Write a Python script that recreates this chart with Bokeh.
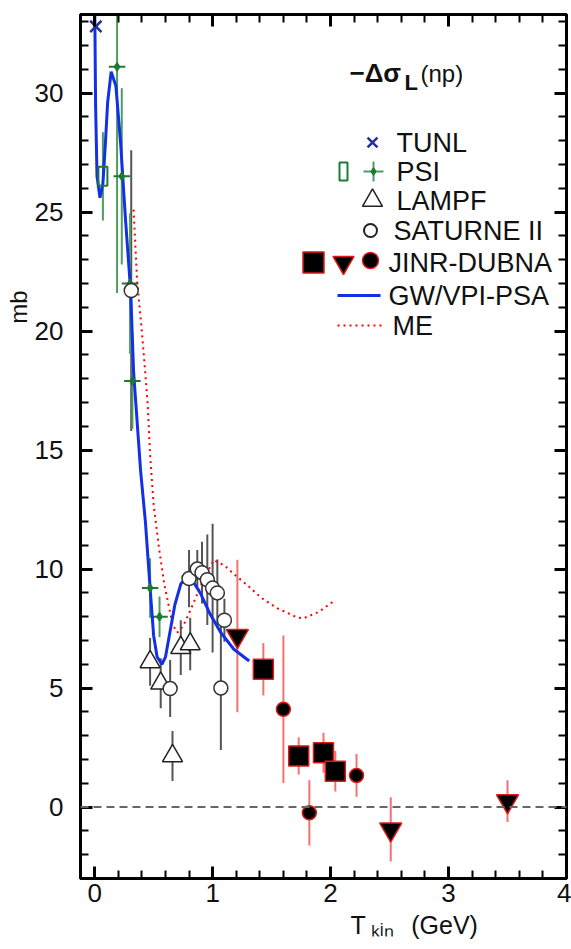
from bokeh.plotting import figure
from bokeh.models import Range1d, LinearAxis, SingleIntervalTicker, Label, Span, Title
from bokeh.embed import file_html
from bokeh.resources import INLINE

# ---------------- data: -Delta sigma_L (np), mb vs T_kin (GeV) ----------------
tunl_t = [0.01]
tunl_s = [32.8]

psi_box_t = [0.07]
psi_box_s = [26.5]
psi_box_err = [1.85]

psi_t = [0.19, 0.23, 0.30, 0.32, 0.47, 0.55]
psi_s = [31.1, 26.5, 22.0, 17.9, 9.2, 8.0]
psi_err = [9.5, 3.7, 2.95, 2.0, 1.25, 0.85]
psi_terr = [0.07, 0.07, 0.07, 0.07, 0.07, 0.07]

lampf_t = [0.47, 0.56, 0.66, 0.73, 0.81]
lampf_s = [6.1, 5.2, 2.15, 6.7, 6.85]
lampf_err = [1.0, 1.05, 1.05, 1.15, 1.1]

sat_t = [0.31, 0.64, 0.80, 0.87, 0.91, 0.955, 1.00, 1.04, 1.07, 1.10]
sat_s = [21.7, 4.98, 9.6, 10.0, 9.85, 9.55, 9.2, 9.0, 5.0, 7.85]
sat_err = [5.9, 1.2, 1.2, 0.8, 1.3, 1.9, 2.7, 1.4, 2.6, 0.9]

jinr_sq_t = [1.43, 1.73, 1.94, 2.04]
jinr_sq_s = [5.79, 2.15, 2.28, 1.51]
jinr_sq_err = [1.1, 0.78, 0.84, 0.85]

jinr_tri_t = [1.21, 2.51, 3.50]
jinr_tri_s = [7.19, -0.94, 0.25]
jinr_tri_err = [3.2, 1.35, 0.88]

jinr_dot_t = [1.60, 1.82, 2.22]
jinr_dot_s = [4.11, -0.24, 1.33]
jinr_dot_err = [3.1, 1.37, 0.9]

psa_t = [0.0, 0.008, 0.02, 0.045, 0.07, 0.09, 0.11, 0.14, 0.18, 0.22, 0.26, 0.305,
         0.33, 0.39, 0.43, 0.47, 0.50, 0.53, 0.57, 0.60, 0.64, 0.68, 0.73, 0.79,
         0.84, 0.90, 0.98, 1.07, 1.18, 1.31]
psa_s = [34.0, 29.5, 26.5, 25.6, 26.2, 27.8, 29.6, 30.9, 30.3, 27.9, 24.8, 21.7,
         18.3, 14.1, 12.0, 9.2, 7.2, 6.3, 6.0, 6.3, 7.4, 8.5, 9.37, 9.72,
         9.44, 8.95, 8.1, 7.33, 6.63, 6.14]

me_t = [0.33, 0.36, 0.40, 0.43, 0.45, 0.47, 0.50, 0.545, 0.59, 0.66, 0.70, 0.75,
        0.81, 0.87, 0.93, 1.01, 1.10, 1.18, 1.30, 1.41, 1.55, 1.72, 1.77, 1.90, 2.04]
me_s = [25.1, 22.1, 20.0, 18.2, 16.9, 14.8, 12.7, 10.9, 9.37, 7.68, 7.33, 7.6,
        8.25, 8.95, 9.65, 10.38, 10.15, 9.79, 9.3, 8.8, 8.35, 7.96, 7.93, 8.2, 8.7]

# ---------------- layout ----------------
W, H = 571, 949
FRAME_L, FRAME_T, FRAME_W, FRAME_H = 80, 14, 486, 864
X0, X1 = -0.12, 4.0
Y0, Y1 = -3.0, 33.3
FONT = "Liberation Sans"
INK = "#111111"


def sx(px):
    """canvas pixel column -> T_kin"""
    return X0 + (px - FRAME_L) * (X1 - X0) / FRAME_W


def sy(py):
    """canvas pixel row -> mb"""
    return Y1 - (py - FRAME_T) * (Y1 - Y0) / FRAME_H


p = figure(width=W, height=H, output_backend="svg", toolbar_location=None,
           x_range=Range1d(X0, X1), y_range=Range1d(Y0, Y1),
           min_border_left=FRAME_L, min_border_top=FRAME_T,
           min_border_right=W - FRAME_L - FRAME_W,
           min_border_bottom=H - FRAME_T - FRAME_H)
p.grid.visible = False
p.background_fill_color = "white"
p.border_fill_color = "white"
p.outline_line_color = "black"
p.outline_line_width = 3

xt = SingleIntervalTicker(interval=1, num_minor_ticks=5)
yt = SingleIntervalTicker(interval=5, num_minor_ticks=5)
p.xaxis.ticker = xt
p.yaxis.ticker = yt
p.add_layout(LinearAxis(ticker=xt), "above")
p.add_layout(LinearAxis(ticker=yt), "right")

for ax in p.axis:
    ax.axis_line_width = 3
    ax.axis_line_color = "black"
    ax.major_tick_in = 12
    ax.major_tick_out = 0
    ax.minor_tick_in = 8
    ax.minor_tick_out = 0
    ax.major_tick_line_width = 3
    ax.minor_tick_line_width = 2
    ax.major_label_text_font = FONT
    ax.major_label_text_font_size = "26px"
    ax.major_label_text_color = INK
# the top and right axes only carry tick marks
for ax in p.above + p.right:
    ax.major_label_text_font_size = "0px"
    ax.major_label_text_color = None
    ax.major_label_standoff = 0
p.xaxis[0].major_label_standoff = 5
p.yaxis[0].major_label_standoff = 17

# axis titles
p.add_layout(Title(text="mb", align="right", offset=276, standoff=0,
                   text_font=FONT, text_font_size="24px",
                   text_font_style="normal", text_color=INK), "left")
p.add_layout(Title(text="T\u2009\u2096\u1d62\u2099\u2002\u2009(GeV)", align="left",
                   offset=270, standoff=9, text_font=FONT,
                   text_font_size="25px", text_font_style="normal",
                   text_color=INK), "below")

# zero reference line
p.add_layout(Span(location=0, dimension="width", line_color="#666666",
                  line_width=2, line_dash="8 5"))

# error bars
GREEN = "#1d7a33"
GREEN_ERR = "#4f9d5f"
GREY_ERR = "#555555"
RED_ERR = "#f07272"
RED_EDGE = "#e01818"
BLUE = "#1230e6"


def vbars(t, s, e, color, width=2):
    p.segment(x0=t, x1=t, y0=[a - b for a, b in zip(s, e)],
              y1=[a + b for a, b in zip(s, e)], line_color=color, line_width=width)


vbars(sat_t, sat_s, sat_err, GREY_ERR)
vbars(lampf_t, lampf_s, lampf_err, GREY_ERR)
vbars(jinr_sq_t, jinr_sq_s, jinr_sq_err, RED_ERR)
vbars(jinr_tri_t, jinr_tri_s, jinr_tri_err, RED_ERR)
vbars(jinr_dot_t, jinr_dot_s, jinr_dot_err, RED_ERR)
vbars(psi_box_t, psi_box_s, psi_box_err, GREEN_ERR)
vbars(psi_t, psi_s, psi_err, GREEN_ERR)
p.segment(x0=[a - b for a, b in zip(psi_t, psi_terr)],
          x1=[a + b for a, b in zip(psi_t, psi_terr)],
          y0=psi_s, y1=psi_s, line_color=GREEN, line_width=2)

# model curves
p.line(me_t, me_s, line_color="red", line_width=2, line_dash="2 4")
p.line(psa_t, psa_s, line_color=BLUE, line_width=3)

# markers
p.scatter(tunl_t, tunl_s, marker="x", size=16, line_color="#26309a", line_width=2.5)
p.rect(psi_box_t, psi_box_s, width=9, height=19, width_units="screen",
       height_units="screen", fill_alpha=0.0, line_color=GREEN, line_width=2)
p.scatter(psi_t, psi_s, marker="diamond", size=9, fill_color=GREEN, line_color=GREEN)
p.scatter(lampf_t, lampf_s, marker="triangle", size=20, fill_color="white",
          line_color="#222222", line_width=1.5)
p.scatter(sat_t, sat_s, marker="circle", size=14, fill_color="white",
          line_color="#333333", line_width=1.5)
p.scatter(jinr_sq_t, jinr_sq_s, marker="square", size=20, fill_color="black",
          line_color=RED_EDGE, line_width=1.5)
p.scatter(jinr_tri_t, jinr_tri_s, marker="inverted_triangle", size=22,
          fill_color="black", line_color=RED_EDGE, line_width=1.5)
p.scatter(jinr_dot_t, jinr_dot_s, marker="circle", size=14, fill_color="black",
          line_color=RED_EDGE, line_width=1.5)

# ---------------- key ----------------
rows = {"TUNL": 142, "PSI": 171, "LAMPF": 200, "SATURNE II": 230,
        "JINR-DUBNA": 262, "GW/VPI-PSA": 295, "ME": 325}
text_x = {"TUNL": 396, "PSI": 396, "LAMPF": 396, "SATURNE II": 393,
          "JINR-DUBNA": 388, "GW/VPI-PSA": 388, "ME": 392}
for name, row in rows.items():
    p.add_layout(Label(x=sx(text_x[name]), y=sy(row), text=name, text_font=FONT,
                       text_font_size="27px", text_baseline="middle",
                       text_align="left", text_color=INK))

p.scatter([sx(372)], [sy(rows["TUNL"])], marker="x", size=14,
          line_color="#26309a", line_width=2.5)
p.rect([sx(343)], [sy(rows["PSI"])], width=8, height=18, width_units="screen",
       height_units="screen", fill_alpha=0.0, line_color=GREEN, line_width=2)
p.segment(x0=[sx(363)], x1=[sx(383)], y0=[sy(rows["PSI"])], y1=[sy(rows["PSI"])],
          line_color=GREEN_ERR, line_width=2)
p.segment(x0=[sx(373)], x1=[sx(373)], y0=[sy(rows["PSI"] - 10)],
          y1=[sy(rows["PSI"] + 10)], line_color=GREEN_ERR, line_width=2)
p.scatter([sx(373)], [sy(rows["PSI"])], marker="diamond", size=8,
          fill_color=GREEN, line_color=GREEN)
p.scatter([sx(372)], [sy(rows["LAMPF"])], marker="triangle", size=20,
          fill_color="white", line_color="#222222", line_width=1.5)
p.scatter([sx(370)], [sy(rows["SATURNE II"])], marker="circle", size=13,
          fill_color="white", line_color="#222222", line_width=2)
p.scatter([sx(313)], [sy(rows["JINR-DUBNA"])], marker="square", size=21,
          fill_color="black", line_color=RED_EDGE, line_width=1.5)
p.scatter([sx(343)], [sy(rows["JINR-DUBNA"])], marker="inverted_triangle", size=21,
          fill_color="black", line_color=RED_EDGE, line_width=1.5)
p.scatter([sx(370)], [sy(rows["JINR-DUBNA"] - 2)], marker="circle", size=16,
          fill_color="black", line_color=RED_EDGE, line_width=1.5)
p.line([sx(337), sx(380)], [sy(rows["GW/VPI-PSA"])] * 2, line_color=BLUE,
       line_width=3)
p.line([sx(337), sx(382)], [sy(rows["ME"])] * 2, line_color="red", line_width=2,
       line_dash="2 4")

# quantity name
p.add_layout(Label(x=sx(349), y=sy(72), text="\u2212\u0394\u03c3", text_font=FONT,
                   text_font_size="26px", text_font_style="bold",
                   text_baseline="alphabetic", text_color=INK))
p.add_layout(Label(x=sx(404), y=sy(82), text="L", text_font=FONT,
                   text_font_size="22px", text_font_style="bold",
                   text_baseline="alphabetic", text_color=INK))
p.add_layout(Label(x=sx(420), y=sy(73), text="(np)", text_font=FONT,
                   text_font_size="24px", text_baseline="alphabetic",
                   text_color=INK))

open("out.html", "w").write(file_html(p, INLINE))
